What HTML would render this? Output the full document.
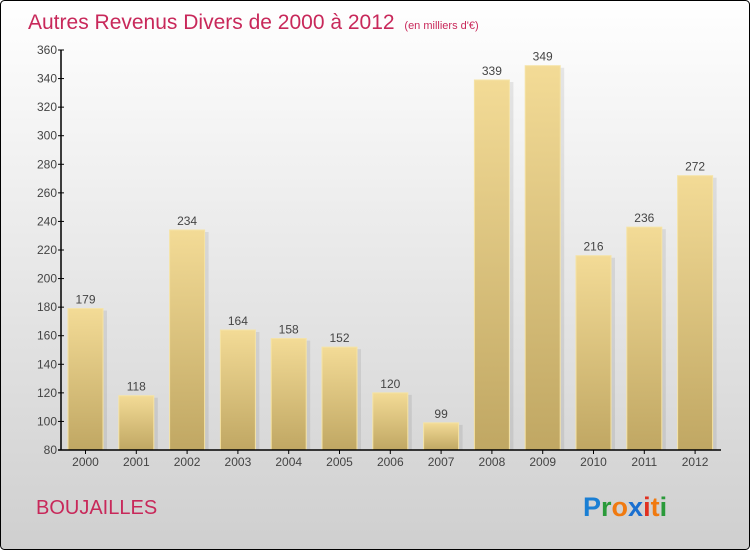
<!DOCTYPE html>
<html><head><meta charset="utf-8"><style>
body{margin:0;}
#c{width:750px;height:550px;position:relative;overflow:hidden;font-family:"Liberation Sans",sans-serif;}
</style></head><body>
<div id="c">
<svg width="750" height="550" xmlns="http://www.w3.org/2000/svg" id="svg">
<defs>
<linearGradient id="bg" x1="0" y1="0" x2="0" y2="1"><stop offset="0" stop-color="#ffffff"/><stop offset="1" stop-color="#cfcfcf"/></linearGradient>
<linearGradient id="bar" x1="0" y1="0" x2="0" y2="1"><stop offset="0" stop-color="#f3db96"/><stop offset="1" stop-color="#c0a763"/></linearGradient>
</defs>
<rect x="0.5" y="0.5" width="749" height="549" rx="4" fill="url(#bg)" stroke="#000"/>
<text x="28" y="29" font-size="21" fill="#c8285a">Autres Revenus Divers de 2000 à 2012 <tspan font-size="11" dx="4">(en milliers d'€)</tspan></text>
<text x="36" y="514" font-size="20" fill="#c8285a">BOUJAILLES</text>
<g font-size="27" font-weight="bold">
<text x="583" y="516"><tspan fill="#1a7fd4">P</tspan><tspan fill="#2a9a3a">r</tspan><tspan fill="#f07a10">o</tspan><tspan fill="#1a6fd0">x</tspan><tspan fill="#e03020">i</tspan><tspan fill="#f07a10">t</tspan><tspan fill="#2a9a3a">i</tspan></text>
</g>
<g id="plot"></g>
</svg>
</div>
<script>
const categories=["2000","2001","2002","2003","2004","2005","2006","2007","2008","2009","2010","2011","2012"];
const values=[179,118,234,164,158,152,120,99,339,349,216,236,272];
const yTicks=[80,100,120,140,160,180,200,220,240,260,280,300,320,340,360];
const NS="http://www.w3.org/2000/svg";
const g=document.getElementById('plot');
const y0=450,y1=50,vmin=80,vmax=360;
function yS(v){return y0-(v-vmin)/(vmax-vmin)*(y0-y1);}
function xS(i){return 85.5+i*50.8;}
function mk(t,a){const e=document.createElementNS(NS,t);for(const k in a)e.setAttribute(k,a[k]);g.appendChild(e);return e;}
values.forEach((v,i)=>{
 const x=xS(i)-17.5;
 const s=mk('rect',{x:x+4,y:yS(v)+2,width:35,height:y0-yS(v)-2,fill:'#000',opacity:0.08});
 
 
 const r=mk('rect',{x:x,y:yS(v),width:35,height:y0-yS(v),fill:'url(#bar)',stroke:'#f5e3a5','stroke-width':1});
 
 
 const t=mk('text',{x:xS(i),y:yS(v)-5,'font-size':12,fill:'#444','text-anchor':'middle'});
 t.textContent=v;
 
 
 const c=mk('text',{x:xS(i),y:466,'font-size':12,fill:'#444','text-anchor':'middle'});
 c.textContent=categories[i];
 
 
 const tk=mk('line',{x1:xS(i),x2:xS(i),y1:450,y2:454,stroke:'#000'});
 
 
});
yTicks.forEach(v=>{
 const l=mk('line',{x1:58,x2:64,y1:yS(v),y2:yS(v),stroke:'#000'});
 
 
 const t=mk('text',{x:57,y:yS(v)+4,'font-size':12,fill:'#444','text-anchor':'end'});
 t.textContent=v;
 
 
});
const ya=mk('line',{x1:61,x2:61,y1:50,y2:450,stroke:'#000','stroke-width':1.5});


const xa=mk('line',{x1:58,x2:721,y1:450,y2:450,stroke:'#000','stroke-width':1.5});


</script>
</body></html>
